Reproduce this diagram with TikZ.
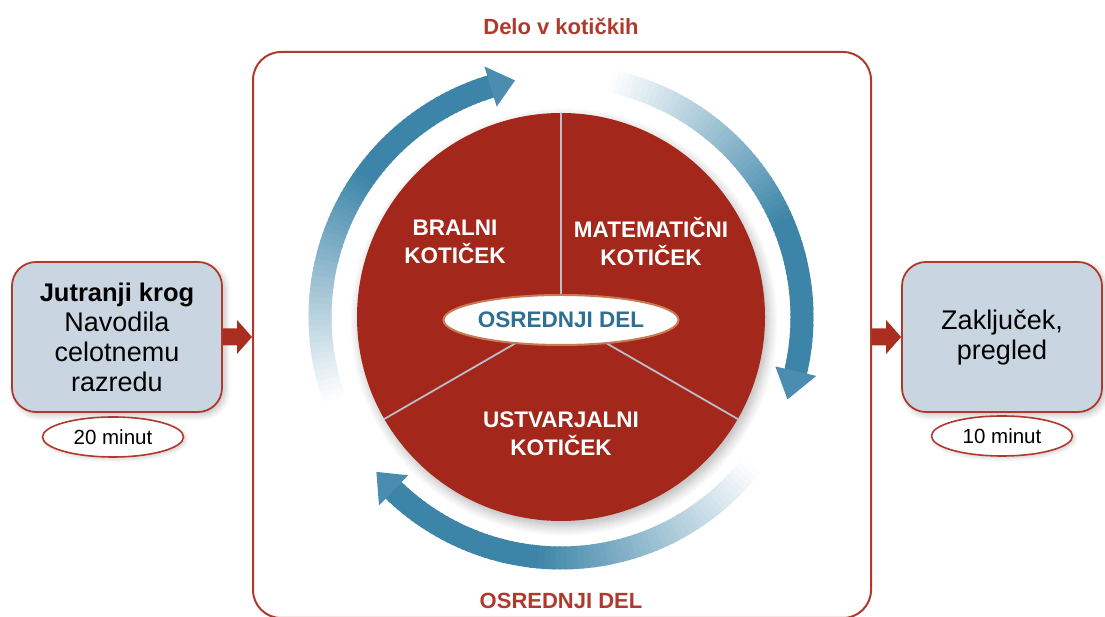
\documentclass[tikz,border=0pt]{standalone}
\usepackage{fontspec}
\setmainfont{Liberation Sans}
\usetikzlibrary{shapes.geometric,shadows.blur,calc}
\definecolor{framered}{HTML}{B0392E}
\definecolor{circred}{HTML}{A3271A}
\definecolor{blockred}{HTML}{A92E20}
\definecolor{boxfill}{HTML}{C9D6E1}
\definecolor{arrowblue}{HTML}{3D85A8}
\definecolor{headblue}{HTML}{4A8DB0}
\definecolor{textblue}{HTML}{2F6F93}
\definecolor{divgray}{HTML}{BDBCCB}
\definecolor{ellborder}{HTML}{C97A52}
\newcommand\gradarrow[3]{%
  \foreach \i in {0,...,71}{%
    \pgfmathsetmacro\aa{#1+(#2-#1)*\i/72}%
    \pgfmathsetmacro\ab{#1+(#2-#1)*(\i+1.4)/72}%
    \pgfmathsetmacro\pc{min(100,100*(\i+0.5)/72/0.6)}%
    \fill[arrowblue!\pc!white] (\aa:229.5pt) arc[start angle=\aa, end angle=\ab, radius=229.5pt]
      -- (\ab:252.5pt) arc[start angle=\ab, end angle=\aa, radius=252.5pt] -- cycle;
  }%
  \fill[headblue] (#2:220pt) -- (#3:241pt) -- (#2:262pt) -- cycle;
}
\begin{document}
\begin{tikzpicture}[x=1pt,y=1pt,
  sidebox/.style={draw=framered, line width=1.8pt, fill=boxfill, rounded corners=24pt,
    minimum height=150pt, inner sep=0pt, align=center,
    font=\fontsize{27}{30}\selectfont,
    blur shadow={shadow blur steps=8, shadow xshift=3pt, shadow yshift=-3pt, shadow blur radius=6pt, shadow opacity=25}},
  timeell/.style={ellipse, draw=framered, line width=1.6pt, fill=white,
    minimum width=141pt, minimum height=40pt, inner sep=0pt,
    font=\fontsize{20.5}{22}\selectfont,
    blur shadow={shadow blur steps=6, shadow xshift=2pt, shadow yshift=-2pt, shadow blur radius=4pt, shadow opacity=20}},
  framebox/.style={draw=framered, line width=2pt, rounded corners=28pt, inner sep=0pt},
  wedgelabel/.style={text=white, align=center, font=\bfseries\fontsize{22.5}{28}\selectfont},
  redlabel/.style={text=framered, font=\bfseries\fontsize{22}{24}\selectfont},
  divider/.style={draw=divgray, line width=1.8pt}
]
\useasboundingbox (0,0) rectangle (1105,617);

% frame
\node[framebox, minimum width=618pt, minimum height=566pt] (frame) at (562,282) {};
\node[redlabel] (title) at (561,591) {Delo v kotičkih};
\node[redlabel] (bottomlabel) at (561,16) {OSREDNJI DEL};

% circular arrows
\begin{scope}[shift={(561,300)}]
  \gradarrow{200}{107}{101}
  \gradarrow{78}{-13}{-20}
  \gradarrow{-38}{-134}{-140}
\end{scope}

% wheel
\node[circle, fill=circred, minimum size=408pt, inner sep=0pt,
  blur shadow={shadow blur steps=10, shadow xshift=3pt, shadow yshift=-5pt, shadow blur radius=10pt, shadow opacity=30}] (wheel) at (561,300) {};
\draw[divider] (wheel.center) -- (wheel.90);
\draw[divider] (wheel.center) -- (wheel.-30);
\draw[divider] (wheel.center) -- (wheel.210);

\node[ellipse, draw=ellborder, line width=2pt, fill=white, minimum width=228pt, minimum height=50pt,
  inner sep=0pt, text=textblue, font=\bfseries\fontsize{22.5}{24}\selectfont] (core) at (561,297) {OSREDNJI DEL};

\node[wedgelabel] (bralni) at (455,375) {BRALNI\\KOTIČEK};
\node[wedgelabel] (mat) at (651,375) {MATEMATIČNI\\KOTIČEK};
\node[wedgelabel] (ustv) at (561,183) {USTVARJALNI\\KOTIČEK};

% side boxes
\node[sidebox, minimum width=210pt] (lbox) at (117,280) {{\bfseries\fontsize{25.5}{30}\selectfont Jutranji krog}\\Navodila\\celotnemu\\razredu};
\node[timeell] (lmin) at (113,180) {20 minut};
\node[sidebox, minimum width=200pt] (rbox) at (1002,280) {Zaključek,\\pregled};
\node[timeell] (rmin) at (1002,181) {10 minut};

% block arrows
\coordinate (la) at (lbox.east);
\coordinate (lb) at (lbox.east -| frame.west);
\fill[blockred] ($(la)+(0,8.5)$) -- ($(lb)+(-15,8.5)$) -- ($(lb)+(-15,17)$) -- (lb)
  -- ($(lb)+(-15,-17)$) -- ($(lb)+(-15,-8.5)$) -- ($(la)+(0,-8.5)$) -- cycle;
\coordinate (ra) at (rbox.west -| frame.east);
\coordinate (rb) at (rbox.west);
\fill[blockred] ($(ra)+(0,8.5)$) -- ($(rb)+(-15,8.5)$) -- ($(rb)+(-15,17)$) -- (rb)
  -- ($(rb)+(-15,-17)$) -- ($(rb)+(-15,-8.5)$) -- ($(ra)+(0,-8.5)$) -- cycle;
\end{tikzpicture}
\end{document}
